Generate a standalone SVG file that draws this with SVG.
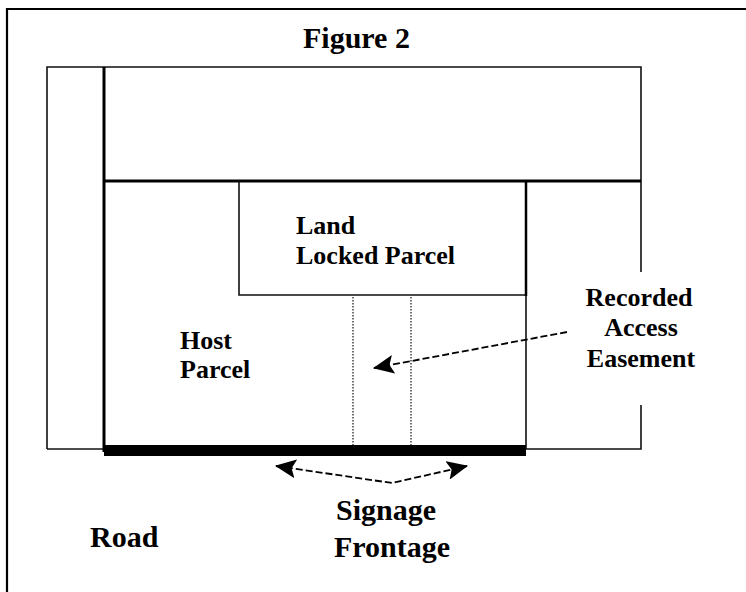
<svg xmlns="http://www.w3.org/2000/svg" width="746" height="592" viewBox="0 0 746 592">
<style>
.thin{stroke:#111;stroke-width:1.6;fill:none}
.thick{stroke:#000;stroke-width:3;fill:none}
.dot{stroke:#111;stroke-width:1.2;stroke-dasharray:1.5,1.5;fill:none}
.dash{stroke:#000;stroke-width:1.8;stroke-dasharray:7,3;fill:none}
.t{font-family:"Liberation Serif","Times New Roman",serif;font-weight:bold;fill:#000}
.s{font-size:26px}
.l{font-size:30px}
</style>
<defs>
<marker id="ah" viewBox="0 0 20 18" refX="19" refY="9" markerWidth="21" markerHeight="19" markerUnits="userSpaceOnUse" orient="auto">
<path d="M0,0 L20,9 L0,18 L4,9 Z" fill="#000"/>
</marker>
<marker id="ahs" viewBox="0 0 20 18" refX="1" refY="9" markerWidth="21" markerHeight="19" markerUnits="userSpaceOnUse" orient="auto">
<path d="M20,0 L0,9 L20,18 L16,9 Z" fill="#000"/>
</marker>
</defs>
<rect x="0" y="0" width="746" height="592" fill="#fff"/>
<g id="frame"><path d="M7,592 L7,9 L746,9" stroke="#000" stroke-width="2.2" fill="none"/></g>
<g id="title"><text class="t l" x="303" y="48">Figure 2</text></g>
<g id="outer-parcels">
<path class="thin" d="M47,449 L47,67 L641,67 L641,272"/>
<path class="thin" d="M641,405 L641,449 L526,449"/>
<path class="thin" d="M47,449 L104,449"/>
</g>
<g id="host-parcel">
<path class="thick" d="M104,67 L104,452"/>
<path class="thick" d="M104,181 L641,181"/>
<path class="thin" d="M526,295 L526,449"/>
<text class="t s" x="180" y="349">Host</text>
<text class="t s" x="180" y="378">Parcel</text>
</g>
<g id="landlocked-parcel">
<path class="thin" d="M239,181 L239,295 L526,295"/>
<path stroke="#000" stroke-width="2.5" fill="none" d="M526,181 L526,296"/>
<text class="t s" x="296" y="234">Land</text>
<text class="t s" x="296" y="264">Locked Parcel</text>
</g>
<g id="easement">
<path class="dot" d="M353,297 L353,445"/>
<path class="dot" d="M411,297 L411,445"/>
</g>
<g id="frontage-bar"><rect x="104" y="445" width="422" height="11" fill="#000"/></g>
<g id="easement-label">
<text class="t s" x="639" y="306" text-anchor="middle">Recorded</text>
<text class="t s" x="641" y="336" text-anchor="middle">Access</text>
<text class="t s" x="641" y="367" text-anchor="middle">Easement</text>
</g>
<g id="signage-label">
<text class="t l" x="336" y="520">Signage</text>
<text class="t l" x="334" y="557">Frontage</text>
</g>
<g id="road-label"><text class="t l" x="90" y="547">Road</text></g>
<g id="connectors">
<path class="dash" d="M567,332 L374,368" marker-end="url(#ah)"/>
<path class="dash" d="M276,466 L392,483 L467,466" marker-start="url(#ahs)" marker-end="url(#ah)"/>
</g>
</svg>
